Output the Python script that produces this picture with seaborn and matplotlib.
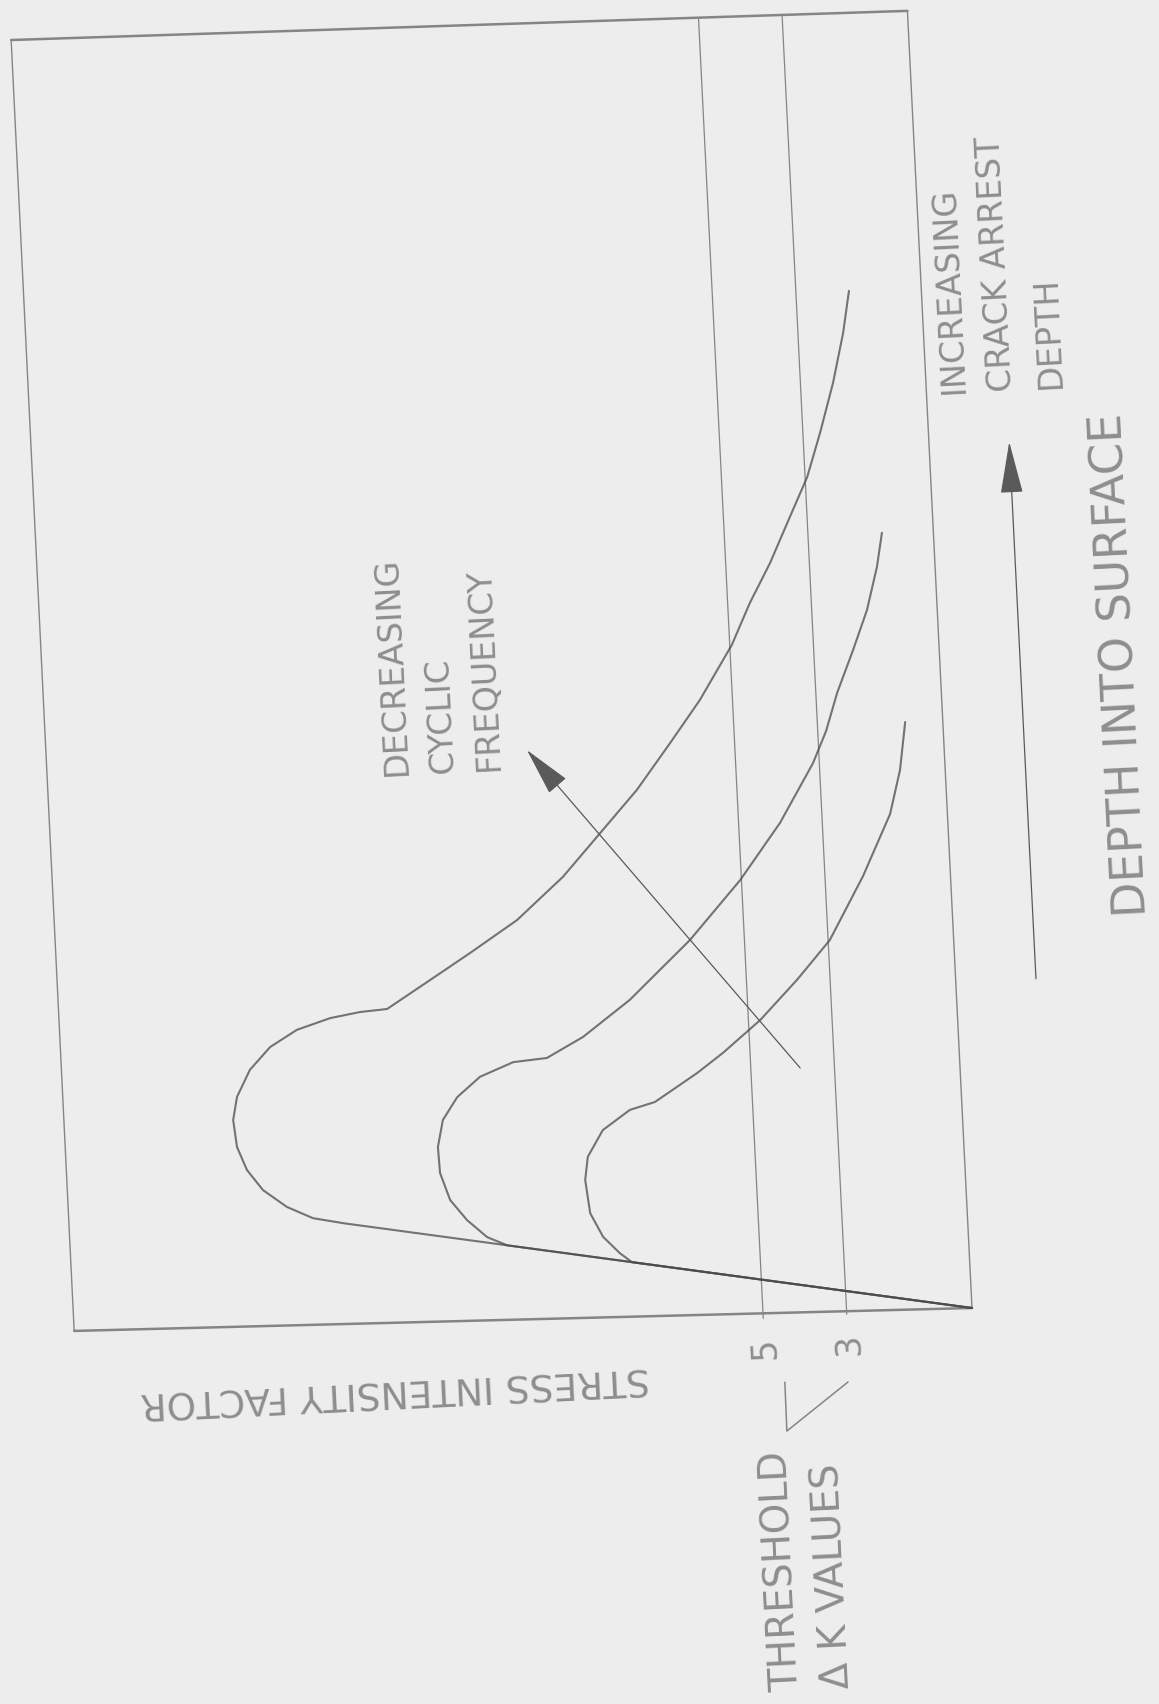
# <=============================================================>
#  Crack arrest sketch: stress intensity factor vs depth into surface
#  (scanned figure is turned on its side, so the whole chart is rotated)
# <=============================================================>
import pandas as pd
import seaborn as sns
import matplotlib
matplotlib.use("Agg")
import matplotlib.pyplot as plt
from matplotlib.transforms import Affine2D
# <=============================================================>
#  Data (arbitrary units, threshold lines at dK = 3 and 5)
# <=============================================================>
THRESHOLDS = [5, 3]
THRESHOLD_LABELS = ["5", "3"]

OUTER_DEPTH = [0.0, 2.77, 2.93, 3.23, 3.66, 4.16, 4.72, 5.37, 5.92, 6.55,
               7.07, 7.45, 7.69, 7.80, 7.84, 8.48, 9.08, 9.81, 10.79, 11.79,
               12.78, 13.86, 14.85, 16.13, 17.11, 18.04, 19.12, 20.05, 21.09, 22.27,
               23.45, 24.45]
OUTER_SIF = [0.0, 14.90, 15.64, 16.25, 16.80, 17.16, 17.37, 17.43, 17.31, 16.97,
             16.46, 15.80, 14.99, 14.27, 13.62, 12.56, 11.57, 10.41, 9.26, 8.32,
             7.39, 6.54, 5.78, 4.95, 4.47, 3.94, 3.41, 2.95, 2.59, 2.22,
             1.92, 1.73]

MIDDLE_DEPTH = [0.0, 2.05, 2.27, 2.70, 3.20, 3.86, 4.48, 5.12, 5.65, 6.11,
                6.42, 6.48, 6.94, 7.77, 9.13, 10.50, 11.82, 13.21, 13.96, 14.86,
                15.86, 16.80, 17.82, 18.63]
MIDDLE_SIF = [0.0, 11.03, 11.50, 11.96, 12.34, 12.55, 12.57, 12.42, 12.05, 11.48,
              10.67, 9.86, 8.97, 7.81, 6.30, 5.03, 4.01, 3.15, 2.80, 2.49,
              2.06, 1.68, 1.39, 1.23]

INNER_DEPTH = [0.0, 1.50, 1.73, 2.14, 2.72, 3.52, 4.07, 4.69, 5.14, 5.30,
               5.94, 6.39, 7.13, 8.05, 8.96, 10.45, 11.90, 12.94, 14.08]
INNER_SIF = [0.0, 8.07, 8.35, 8.73, 9.01, 9.09, 9.00, 8.61, 7.94, 7.33,
             6.29, 5.65, 4.72, 3.79, 2.96, 2.09, 1.37, 1.08, 0.90]

# plot frame (scan is slightly out of square)
FRAME_DEPTH = [0.0, 31.07, 31.44, 0.52, 0.0]
FRAME_SIF = [0.0, 0.0, 21.45, 21.48, 0.0]
DEPTH_MAX = 31.13

# leader from the threshold note to the 5 / 3 labels
LEADER_DEPTH = [-1.55, -2.72, -1.62]
LEADER_SIF = [4.56, 4.57, 3.05]
# <=============================================================>
#  Figure setup
# <=============================================================>
sns.set_theme(style="white")
plt.rcParams["font.family"] = ["DejaVu Sans"]

W, H, DPI = 1159, 1704, 100
PX_PER_UNIT = 41.8
ANGLE = 92.85          # chart is turned ~90 deg plus the scan skew
ORIGIN_PX = (972, H - 1308)

BG = "#ededed"
LINE = "#4a4a4a"
FRAME = "#858585"
TEXT = "#8e8e8e"

fig = plt.figure(figsize=(W / DPI, H / DPI), dpi=DPI, facecolor=BG)
ax = fig.add_axes([0, 0, 1, 1])
ax.set_facecolor(BG)
ax.axis("off")
# data -> unrotated pixels -> rotated about the plot origin
T = ax.transData + Affine2D().rotate_deg(ANGLE).translate(*ORIGIN_PX)
# <=============================================================>
#  Frame and threshold lines
# <=============================================================>
ax.plot(FRAME_DEPTH[:2], FRAME_SIF[:2], color=FRAME, lw=1.0, transform=T, clip_on=False)
ax.plot(FRAME_DEPTH[1:3], FRAME_SIF[1:3], color=FRAME, lw=1.8, transform=T, clip_on=False)
ax.plot(FRAME_DEPTH[2:4], FRAME_SIF[2:4], color=FRAME, lw=1.0, transform=T, clip_on=False)
ax.plot(FRAME_DEPTH[3:5], FRAME_SIF[3:5], color=FRAME, lw=1.8, transform=T, clip_on=False)
for th, lab in zip(THRESHOLDS, THRESHOLD_LABELS):
    ax.plot([0, DEPTH_MAX], [th, th], color=FRAME, lw=0.9, transform=T, clip_on=False)
    ax.text(-0.72, th, lab, transform=T, rotation=ANGLE, rotation_mode="anchor",
            ha="center", va="center", fontsize=25, color=TEXT)
ax.plot(LEADER_DEPTH, LEADER_SIF, color=FRAME, lw=1.1, transform=T, clip_on=False)
# <=============================================================>
#  Curves (seaborn line plots, one per cyclic frequency)
# <=============================================================>
curves = pd.concat([
    pd.DataFrame({"depth": OUTER_DEPTH, "sif": OUTER_SIF, "curve": "outer"}),
    pd.DataFrame({"depth": MIDDLE_DEPTH, "sif": MIDDLE_SIF, "curve": "middle"}),
    pd.DataFrame({"depth": INNER_DEPTH, "sif": INNER_SIF, "curve": "inner"}),
])
for name, sub in curves.groupby("curve", sort=False):
    sns.lineplot(data=sub, x="depth", y="sif", ax=ax, sort=False, estimator=None,
                 color=LINE, alpha=0.75, lw=1.5, transform=T, clip_on=False,
                 solid_joinstyle="round")
# <=============================================================>
#  Arrows
# <=============================================================>
ax.annotate("", xy=(13.86, 9.97), xytext=(5.94, 3.82), xycoords=T, textcoords=T,
            annotation_clip=False,
            arrowprops=dict(arrowstyle="-|>,head_length=1.3,head_width=0.3",
                            mutation_scale=24, color="#5a5a5a", lw=0.9,
                            shrinkA=0, shrinkB=0))
ax.annotate("", xy=(20.65, -1.92), xytext=(7.79, -1.92), xycoords=T, textcoords=T,
            annotation_clip=False,
            arrowprops=dict(arrowstyle="-|>,head_length=1.4,head_width=0.3",
                            mutation_scale=24, color="#5a5a5a", lw=0.9,
                            shrinkA=0, shrinkB=0))
# <=============================================================>
#  Labels
# <=============================================================>
ax.text(15.20, -4.33, "DEPTH INTO SURFACE", transform=T, rotation=ANGLE,
        rotation_mode="anchor", ha="center", va="center", fontsize=33, color=TEXT)
ax.text(-1.27, 13.88, "STRESS INTENSITY FACTOR", transform=T, rotation=ANGLE + 90,
        rotation_mode="anchor", ha="center", va="center", fontsize=27, color=TEXT)
ax.text(13.41, 12.00, "DECREASING\nCYCLIC\nFREQUENCY", transform=T, rotation=ANGLE,
        rotation_mode="anchor", ha="left", va="center", fontsize=24, color=TEXT,
        linespacing=1.5)
ax.text(21.87, -1.83, "INCREASING\nCRACK ARREST\nDEPTH", transform=T, rotation=ANGLE,
        rotation_mode="anchor", ha="left", va="center", fontsize=24, color=TEXT,
        linespacing=1.6)
ax.text(-8.94, 4.25, "THRESHOLD\n\u0394 K VALUES", transform=T, rotation=ANGLE,
        rotation_mode="anchor", ha="left", va="center", fontsize=28, color=TEXT,
        linespacing=1.45)

ax.set_xlim(0, W / PX_PER_UNIT)
ax.set_ylim(0, H / PX_PER_UNIT)
ax.set_autoscale_on(False)
fig.savefig("out.png", dpi=DPI, facecolor=BG)
